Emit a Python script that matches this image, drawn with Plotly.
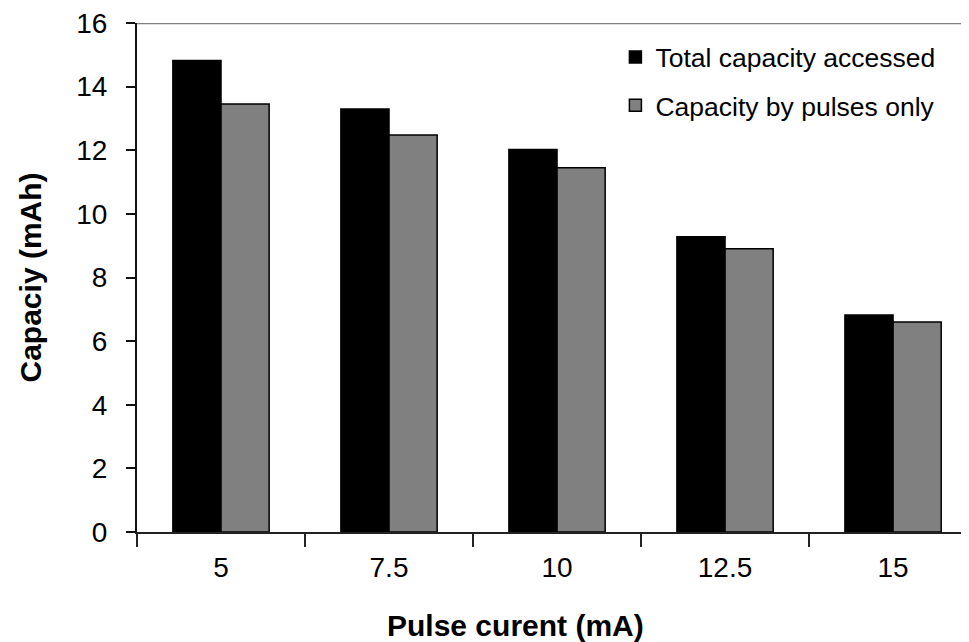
import plotly.graph_objects as go

categories = ["5", "7.5", "10", "12.5", "15"]
total_capacity = [14.82, 13.3, 12.02, 9.28, 6.82]
pulse_capacity = [13.45, 12.48, 11.45, 8.9, 6.6]
y_ticks = [0, 2, 4, 6, 8, 10, 12, 14, 16]

FONT = "Liberation Sans, Arial, sans-serif"

# page body has an 8px default margin, so the figure is offset by 8px
OFF = 8
PL, PT, PB = 137, 23, 532  # plot-area left, top, bottom in window pixels
PW = 969 - PL
PH = PB - PT

fig = go.Figure()
fig.add_trace(go.Bar(
    x=categories, y=total_capacity, name="Total capacity accessed",
    marker=dict(color="#000000", line=dict(color="#000000", width=1.5)),
    legend="legend",
))
fig.add_trace(go.Bar(
    x=categories, y=pulse_capacity, name="Capacity by pulses only",
    marker=dict(color="#808080", line=dict(color="#000000", width=1.5)),
    legend="legend2",
))

fig.update_layout(
    width=969 - OFF, height=642 - OFF,
    margin=dict(l=PL - OFF, r=0, t=PT - OFF, b=642 - PB, pad=0),
    paper_bgcolor="white", plot_bgcolor="white",
    font=dict(family=FONT, size=27, color="#000000"),
    barmode="group", bargap=0.427, bargroupgap=0,
    showlegend=True,
    legend=dict(x=0.575, y=0.98, xanchor="left", yanchor="top",
                bgcolor="rgba(0,0,0,0)", font=dict(size=26.5, family=FONT)),
    legend2=dict(x=0.575, y=0.885, xanchor="left", yanchor="top",
                 bgcolor="rgba(0,0,0,0)", font=dict(size=26.5, family=FONT)),
    xaxis=dict(
        type="category", range=[-0.5, 4.452],
        showline=True, linecolor="#222222", linewidth=2,
        ticks="outside", tickson="boundaries", ticklen=13, tickcolor="#222222", tickwidth=1.5,
        ticklabelstandoff=9, showgrid=False, zeroline=False,
        tickfont=dict(size=28, family=FONT),
    ),
    yaxis=dict(
        range=[0, 16], tickvals=y_ticks,
        showline=True, linecolor="#111111", linewidth=2,
        ticks="outside", ticklen=9, tickcolor="#111111", tickwidth=1.5,
        ticklabelstandoff=13, ticklabeloverflow="allow", showgrid=False, zeroline=False,
        tickfont=dict(size=28, family=FONT),
    ),
    shapes=[dict(type="line", xref="paper", yref="y", x0=0, x1=1, y0=16, y1=16,
                 layer="above", line=dict(color="#808080", width=2.5))],
    annotations=[
        dict(text="<b>Pulse curent (mA)</b>", xref="paper", yref="paper",
             x=(515 - PL) / PW, y=-(625 - PB) / PH, xanchor="center", yanchor="middle",
             showarrow=False, font=dict(size=30, family=FONT)),
        dict(text="<b>Capaciy (mAh)</b>", xref="paper", yref="paper",
             x=-(PL - 30) / PW, y=0.5, xanchor="center", yanchor="middle",
             textangle=-90, showarrow=False, font=dict(size=30, family=FONT)),
    ],
)

fig.write_html("out.html")
